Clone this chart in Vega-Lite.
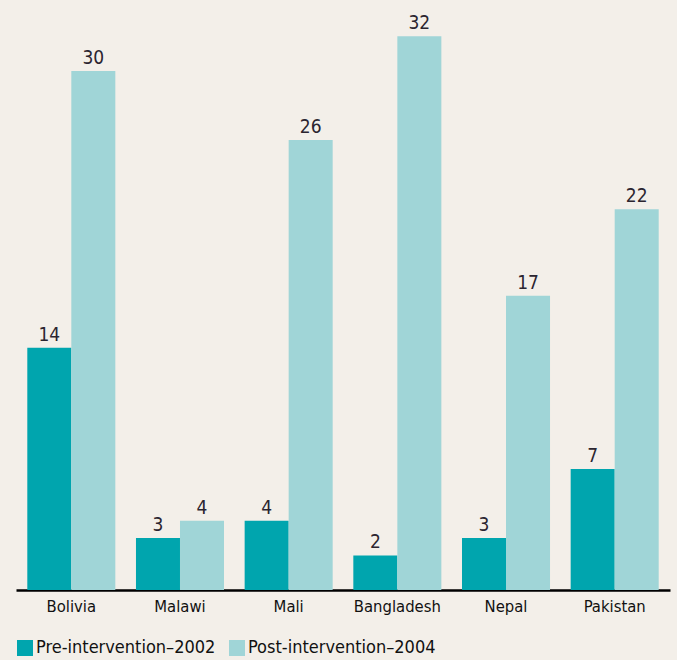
{
  "$schema": "https://vega.github.io/schema/vega-lite/v6.json",
  "width": 654,
  "height": 571,
  "autosize": {"type": "none"},
  "padding": {"left": 16, "top": 19, "right": 7, "bottom": 70},
  "background": "#f3efe9",
  "config": {
    "view": {"stroke": null},
    "font": "DejaVu Sans Condensed"
  },
  "data": {
    "values": [
      {"country": "Bolivia", "period": "Pre-intervention\u20132002", "value": 14},
      {"country": "Bolivia", "period": "Post-intervention\u20132004", "value": 30},
      {"country": "Malawi", "period": "Pre-intervention\u20132002", "value": 3},
      {"country": "Malawi", "period": "Post-intervention\u20132004", "value": 4},
      {"country": "Mali", "period": "Pre-intervention\u20132002", "value": 4},
      {"country": "Mali", "period": "Post-intervention\u20132004", "value": 26},
      {"country": "Bangladesh", "period": "Pre-intervention\u20132002", "value": 2},
      {"country": "Bangladesh", "period": "Post-intervention\u20132004", "value": 32},
      {"country": "Nepal", "period": "Pre-intervention\u20132002", "value": 3},
      {"country": "Nepal", "period": "Post-intervention\u20132004", "value": 17},
      {"country": "Pakistan", "period": "Pre-intervention\u20132002", "value": 7},
      {"country": "Pakistan", "period": "Post-intervention\u20132004", "value": 22}
    ]
  },
  "encoding": {
    "x": {
      "field": "country",
      "type": "nominal",
      "sort": null,
      "scale": {"paddingInner": 0.19, "paddingOuter": 0.104},
      "axis": {
        "title": null,
        "labelAngle": 0,
        "ticks": false,
        "domainColor": "#000000",
        "domainWidth": 2.5,
        "labelFontSize": 16.5,
        "labelFont": "DejaVu Sans Condensed",
        "labelFontWeight": "normal",
        "labelColor": "#111111",
        "labelPadding": 8
      }
    },
    "xOffset": {"field": "period", "type": "nominal", "sort": null},
    "y": {
      "field": "value",
      "type": "quantitative",
      "scale": {"domain": [0, 33], "nice": false},
      "axis": null
    }
  },
  "layer": [
    {
      "mark": {"type": "bar"},
      "encoding": {
        "color": {
          "field": "period",
          "type": "nominal",
          "sort": null,
          "scale": {"range": ["#00a5ae", "#a0d5d7"]},
          "legend": {
            "title": null,
            "orient": "none",
            "direction": "horizontal",
            "legendX": 0,
            "legendY": 620,
            "symbolType": "square",
            "symbolSize": 256,
            "symbolOpacity": 1,
            "symbolStrokeWidth": 0,
            "labelFontSize": 18,
            "labelFont": "DejaVu Sans Condensed",
            "labelColor": "#111111",
            "labelOffset": 2,
            "columnPadding": 12,
            "labelLimit": 300
          }
        }
      }
    },
    {
      "mark": {"type": "text", "baseline": "bottom", "dy": -3, "fontSize": 19, "color": "#2b2530", "font": "DejaVu Sans Condensed"},
      "encoding": {
        "text": {"field": "value", "type": "quantitative"}
      }
    }
  ]
}
